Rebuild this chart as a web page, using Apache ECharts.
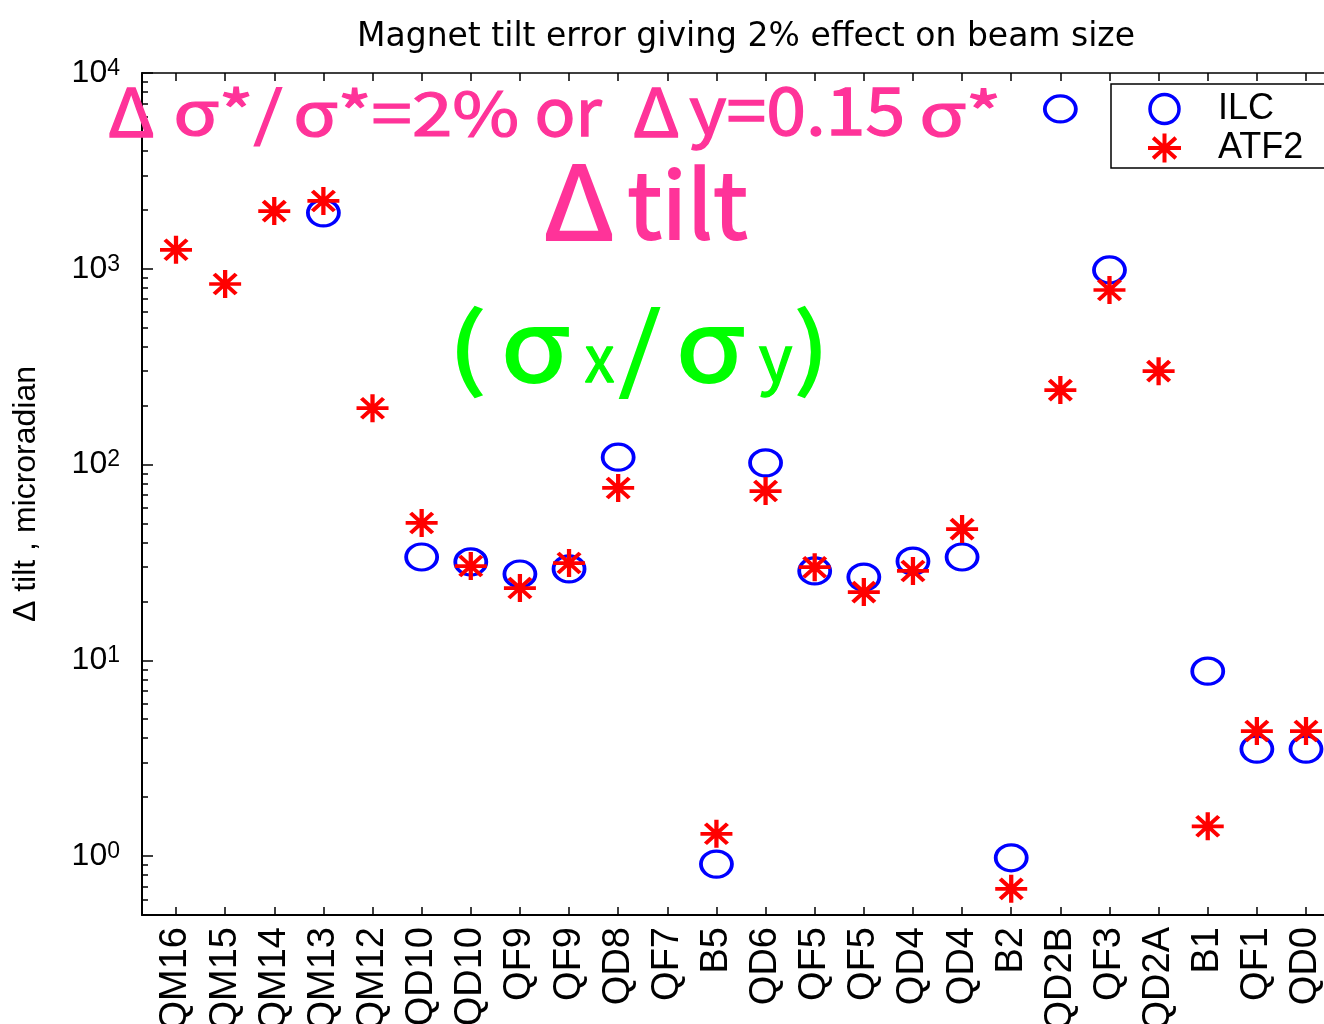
<!DOCTYPE html>
<html>
<head>
<meta charset="utf-8">
<script src="https://cdn.jsdelivr.net/npm/echarts@6/dist/echarts.min.js"></script>
<style>
  html, body { margin: 0; padding: 0; background: #ffffff; }
  #chart { width: 1324px; height: 1024px; }
</style>
</head>
<body>
<div id="chart"></div>
<script>
// Magnets along the beam line (left to right)
const magnets = ['QM16','QM15','QM14','QM13','QM12','QD10','QD10','QF9','QF9','QD8','QF7','B5',
                 'QD6','QF5','QF5','QD4','QD4','B2','QD2B','QF3','QD2A','B1','QF1','QD0'];

// Tilt (microradian) giving a 2% beam size effect; null = no entry
const ilcTilt  = [null, null, null, 1930, null, 33.7, 31.8, 27.6, 29.3, 109, null, 0.91,
                  102, 28.6, 26.6, 32.1, 33.7, 0.98, 6550, 986, null, 8.8, 3.52, 3.52];
const atf2Tilt = [1250, 836, 1970, 2220, 194, 50.3, 30.3, 23.4, 31.4, 75.9, null, 1.30,
                  73.2, 29.9, 22.3, 28.6, 46.8, 0.68, 240, 779, 300, 1.42, 4.35, 4.35];

// Log axis decades and their exponent labels
const yMajorTicks = [1, 10, 100, 1000, 10000];
const yMajorExps  = ['0', '1', '2', '3', '4'];
const yMinorTicks = [0.6, 0.7, 0.8, 0.9,
                     2, 3, 4, 5, 6, 7, 8, 9,
                     20, 30, 40, 50, 60, 70, 80, 90,
                     200, 300, 400, 500, 600, 700, 800, 900,
                     2000, 3000, 4000, 5000, 6000, 7000, 8000, 9000];

const xPositions = magnets.map((_, i) => i + 1);
const toPoints = arr => arr.map((v, i) => v == null ? null : [i + 1, v]).filter(p => p);

const ASTERISK = 'path://M0,-14L0,14M-16,0L16,0M-11,-10L11,10M-11,10L11,-10';

// Fit a text run's ink box into [left, top, right, bottom]
const measureCtx = document.createElement('canvas').getContext('2d');
function fitText(text, box, color) {
  const font = 'normal 100px "Noto Sans CJK JP"';
  measureCtx.font = font;
  measureCtx.textBaseline = 'middle';
  measureCtx.textAlign = 'left';
  const m = measureCtx.measureText(text);
  const inkW = m.actualBoundingBoxLeft + m.actualBoundingBoxRight;
  const inkH = m.actualBoundingBoxAscent + m.actualBoundingBoxDescent;
  const [L, T, R, B] = box;
  const sx = (R - L) / inkW, sy = (B - T) / inkH;
  return {
    type: 'text', silent: true, z: 20,
    x: L + sx * m.actualBoundingBoxLeft,
    y: T + sy * m.actualBoundingBoxAscent,
    scaleX: sx, scaleY: sy,
    style: { text: text, x: 0, y: 0, fill: color, font: font,
             stroke: color, lineWidth: 2,
             align: 'left', verticalAlign: 'middle',
             textAlign: 'left', textVerticalAlign: 'middle' }
  };
}

const PINK = '#ff3399', GREEN = '#00ff00';
const annotations = [
  fitText('Δ',      [110, 87.7, 153, 136.7], PINK),
  fitText('σ*/',    [177, 86.7, 282, 145.7], PINK),
  fitText('σ*=2%',  [297, 88, 517, 137], PINK),
  fitText('or',     [538, 100, 602, 137], PINK),
  fitText('Δ',      [635, 87.7, 678, 136.7], PINK),
  fitText('y=0.15', [690, 86.7, 902, 150], PINK),
  fitText('σ*',     [923, 88.3, 997, 136.7], PINK),
  fitText('Δ',      [546.7, 165, 611.7, 240], PINK),
  fitText('tilt',   [629, 165, 747, 240], PINK),
  fitText('(',      [458, 306.7, 482, 397.3], GREEN),
  fitText('σ',      [506.7, 328, 568.3, 382.7], GREEN),
  fitText('x',      [585, 346.7, 614, 381.7], GREEN),
  fitText('/',      [620, 306.7, 659.3, 397.3], GREEN),
  fitText('σ',      [681.7, 328, 743.3, 382.7], GREEN),
  fitText('y',      [759.3, 346.7, 791.7, 396.7], GREEN),
  fitText(')',      [798.3, 306.7, 820, 397.3], GREEN)
];

const chart = echarts.init(document.getElementById('chart'), null, { renderer: 'canvas' });

const gridBox = { left: 142, top: 73, width: 1198, height: 842, containLabel: false, outerBoundsMode: 'none' };
const xMin = 0.308, xMax = 24.692;

chart.setOption({
  animation: false,
  backgroundColor: '#ffffff',
  title: {
    text: 'Magnet tilt error giving 2% effect on beam size',
    left: 357, top: 21, padding: 0,
    textStyle: { fontFamily: 'DejaVu Sans', fontSize: 33, fontWeight: 'normal', color: '#000' }
  },
  legend: {
    orient: 'vertical', left: 1111, top: 84,
    padding: [7, 40, 2, 35], itemGap: 3,
    itemWidth: 33, itemHeight: 29,
    backgroundColor: '#ffffff', borderColor: '#000', borderWidth: 1.5, borderRadius: 0,
    selectedMode: false, z: 10,
    textStyle: { fontFamily: 'Liberation Sans', fontSize: 36, color: '#000', lineHeight: 36, padding: [0, 0, 0, 32] },
    data: [
      { name: 'ILC', itemStyle: { borderWidth: 3.5 } },
      { name: 'ATF2', itemStyle: { borderWidth: 4 } }
    ]
  },
  grid: gridBox,
  xAxis: [
    {
      type: 'value', min: xMin, max: xMax, position: 'bottom',
      axisLine: { show: true, onZero: false, lineStyle: { color: '#000', width: 2 } },
      axisTick: { show: true, inside: true, length: 8, customValues: xPositions, lineStyle: { color: '#000', width: 1.5 } },
      axisLabel: {
        customValues: xPositions, rotate: 90, margin: 12,
        formatter: v => magnets[Math.round(v) - 1],
        fontFamily: 'Liberation Sans', fontSize: 38, color: '#000'
      },
      splitLine: { show: false }
    },
    {
      type: 'value', min: xMin, max: xMax, position: 'top',
      axisLine: { show: true, onZero: false, lineStyle: { color: '#000', width: 1.5 } },
      axisTick: { show: true, inside: true, length: 8, customValues: xPositions, lineStyle: { color: '#000', width: 1.5 } },
      axisLabel: { show: false },
      splitLine: { show: false }
    }
  ],
  yAxis: [
    {
      type: 'log', logBase: 10, min: 0.5, max: 10000, position: 'left',
      name: 'Δ tilt , microradian', nameLocation: 'middle', nameGap: 100, nameRotate: 90,
      nameTextStyle: { fontFamily: 'Liberation Sans', fontSize: 32, color: '#000' },
      axisLine: { show: true, onZero: false, lineStyle: { color: '#000', width: 2 } },
      axisTick: { show: true, inside: true, length: 11, customValues: yMajorTicks, lineStyle: { color: '#000', width: 1.5 } },
      axisLabel: {
        customValues: yMajorTicks, margin: 22,
        formatter: v => {
          const i = yMajorTicks.findIndex(t => Math.abs(t - v) / t < 1e-6);
          return '{b|10}{s|' + yMajorExps[i] + '}';
        },
        rich: {
          b: { fontFamily: 'Liberation Sans', fontSize: 32, color: '#000', lineHeight: 32, padding: [10, 0, 0, 0], verticalAlign: 'bottom' },
          s: { fontFamily: 'Liberation Sans', fontSize: 23, color: '#000', lineHeight: 23, verticalAlign: 'top' }
        }
      },
      splitLine: { show: false }
    },
    {
      // minor decade ticks drawn along the left edge
      type: 'log', logBase: 10, min: 0.5, max: 10000, position: 'right', offset: -gridBox.width,
      axisLine: { show: false },
      axisTick: { show: true, inside: false, length: 6, customValues: yMinorTicks, lineStyle: { color: '#000', width: 1.5 } },
      axisLabel: { show: false },
      splitLine: { show: false }
    }
  ],
  series: [
    {
      name: 'ILC', type: 'scatter', xAxisIndex: 0, yAxisIndex: 0,
      data: toPoints(ilcTilt),
      symbol: 'circle', symbolSize: [31, 26],
      itemStyle: { color: 'rgba(0,0,0,0)', borderColor: '#0000ff', borderWidth: 3.5, opacity: 1 },
      emphasis: { disabled: true }, silent: true, z: 3
    },
    {
      name: 'ATF2', type: 'scatter', xAxisIndex: 0, yAxisIndex: 0,
      data: toPoints(atf2Tilt),
      symbol: ASTERISK, symbolSize: [32, 28],
      itemStyle: { color: 'rgba(0,0,0,0)', borderColor: '#ff0000', borderWidth: 4, opacity: 1 },
      emphasis: { disabled: true }, silent: true, z: 4
    }
  ],
  graphic: { elements: annotations }
});
</script>
</body>
</html>
